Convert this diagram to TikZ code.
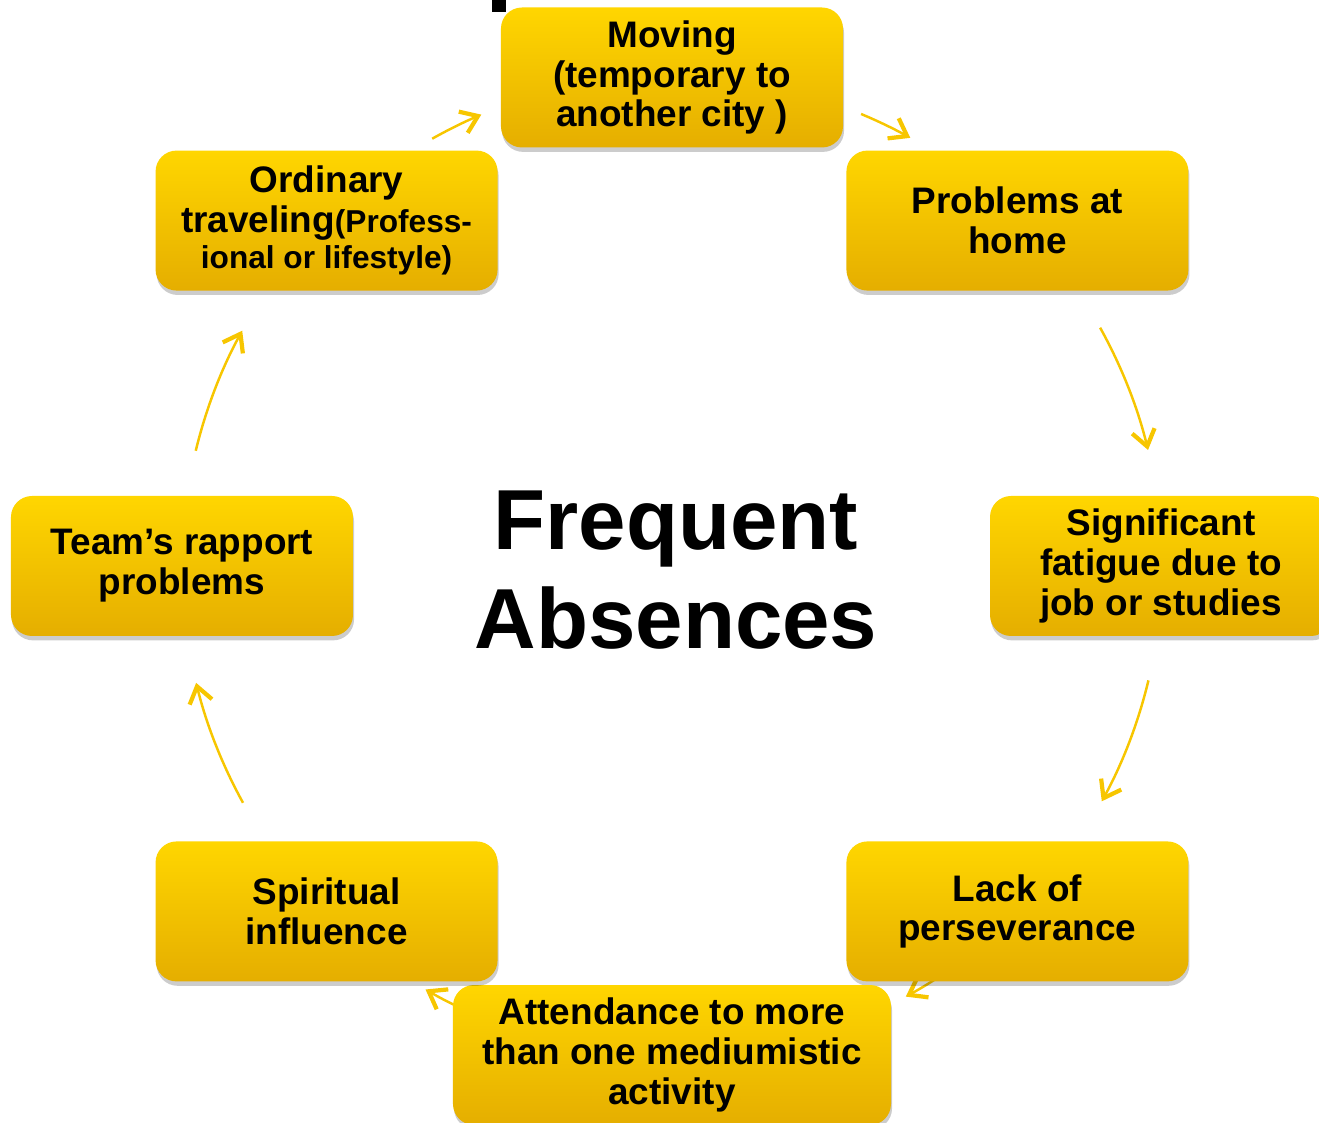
\documentclass[tikz,border=0pt]{standalone}
\usepackage{fontspec}
\setmainfont{Liberation Sans}
\usetikzlibrary{arrows.meta}
\usetikzlibrary{shadows}

\definecolor{goldtop}{RGB}{255,214,0}
\definecolor{goldbot}{RGB}{229,174,0}
\definecolor{arcgold}{RGB}{247,198,0}

\begin{document}
\begin{tikzpicture}[
    >={Straight Barb[length=3.2mm, width=4.6mm, line width=2.4pt]},
    stepbox/.style={rectangle, rounded corners=0.42cm, minimum width=6.84cm,
        minimum height=2.8cm, align=center, top color=goldtop, bottom color=goldbot,
        draw=none, font=\fontsize{21}{22.7}\selectfont\bfseries,
        drop shadow={shadow xshift=0.6pt, shadow yshift=-2.5pt, fill=black, opacity=0.2}},
    widebox/.style={stepbox, minimum width=8.76cm},
    cycarrow/.style={->, draw=arcgold, line width=1.4pt}
]

\clip (-13.44,11.32) rectangle (12.94,-11.14);

% Arrows round the cycle
\coordinate (hub) at (0,0);
\foreach \a/\b in {119.3/112.9, 67.3/60.9, 29.1/13.7, -13.5/-28.7,
                   -55/-61.5, -113/-120.2, 208.9/193.8, 166.4/151.3}
    \draw[cycarrow] ([shift={(\a:9.8)}]hub) arc[start angle=\a, end angle=\b, radius=9.8];

% Nodes
\node[stepbox] (moving) at (90:9.77) {Moving\\(temporary to\\another city )};
\node[stepbox] (home) at (45:9.77) {Problems at\\home};
\node[stepbox] (fatigue) at (0:9.78) {Significant\\fatigue due to\\job or studies};
\node[stepbox] (perseverance) at (-45:9.77) {Lack of\\perseverance};
\node[widebox] (attendance) at (-90:9.78) {Attendance to more\\than one mediumistic\\activity};
\node[stepbox] (spiritual) at (-135:9.77) {Spiritual\\influence};
\node[stepbox] (rapport) at (180:9.8) {Team’s rapport\\problems};
\node[stepbox] (traveling) at (135:9.77) {Ordinary\\traveling{\fontsize{18}{18}\selectfont(Profess-}\\[-2pt]{\fontsize{18}{18}\selectfont ional or lifestyle)}};

\node[font=\fontsize{48.5}{56.7}\selectfont\bfseries, align=center] (title) at (0.08,-0.08) {Frequent\\Absences};

% cut-off mark at the top
\fill[black] (-3.6,11.32) rectangle (-3.32,11.08);

\end{tikzpicture}
\end{document}
